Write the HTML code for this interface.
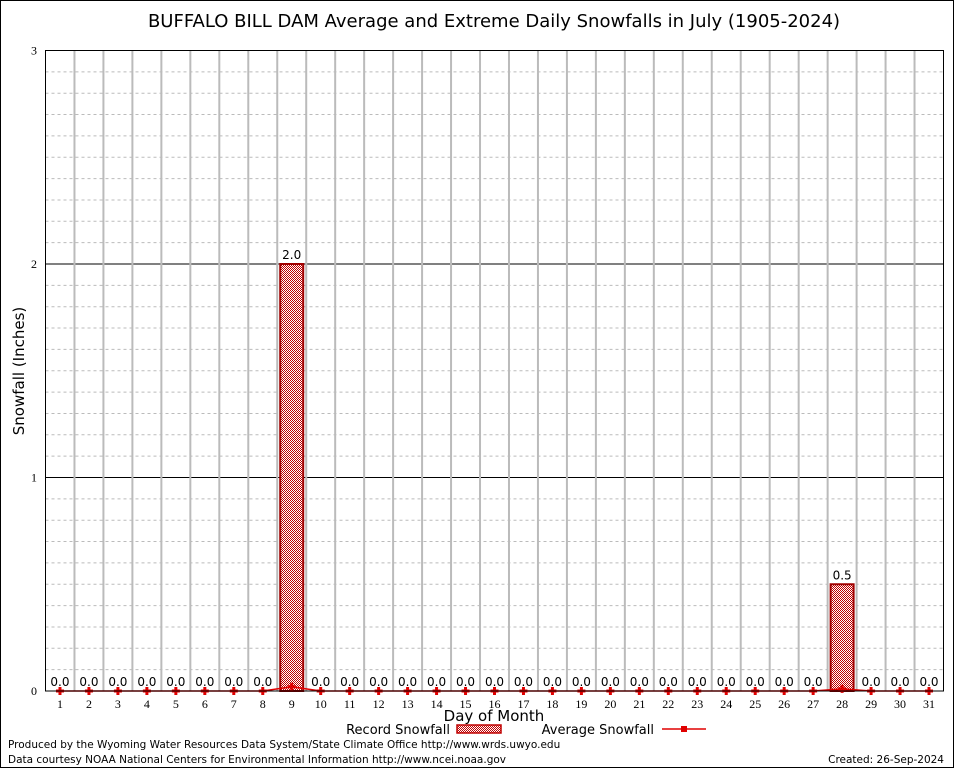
<!DOCTYPE html>
<html><head><meta charset="utf-8"><style>
body{margin:0;background:#fff;}
svg{display:block;font-family:"DejaVu Sans","Liberation Sans",sans-serif;}
</style></head><body>
<svg id="c" width="954" height="768" viewBox="0 0 954 768" xmlns="http://www.w3.org/2000/svg">
<defs>
<pattern id="hatch" width="2" height="2" patternUnits="userSpaceOnUse">
<rect width="2" height="2" fill="#fff"/><rect width="1" height="1" fill="#c00000"/><rect x="1" y="1" width="1" height="1" fill="#c00000"/>
</pattern>
</defs>
<rect x="0.5" y="0.5" width="953" height="767" fill="#fff" stroke="#000"/>
<text x="494" y="27" font-size="18" text-anchor="middle">BUFFALO BILL DAM Average and Extreme Daily Snowfalls in July (1905-2024)</text>
<g id="grid"></g><g id="marks"></g>
<rect x="45.5" y="50.5" width="898" height="640.5" fill="none" stroke="#000"/>
<text transform="translate(24,371) rotate(-90)" font-size="15" text-anchor="middle">Snowfall (Inches)</text>
<text x="494" y="721" font-size="15" text-anchor="middle">Day of Month</text>
<g>
<text x="450" y="734" font-size="13" text-anchor="end">Record Snowfall</text>
<rect x="457" y="725" width="44" height="8" fill="url(#hatch)" stroke="#c00000" stroke-width="1.5"/>
<text x="654" y="734" font-size="13" text-anchor="end">Average Snowfall</text>
<line x1="662" y1="729" x2="706" y2="729" stroke="#e00000" stroke-width="1.5"/>
<rect x="681" y="726" width="6" height="6" fill="#e00000"/>
</g>
<text x="8" y="748" font-size="10.5">Produced by the Wyoming Water Resources Data System/State Climate Office http://www.wrds.uwyo.edu</text>
<text x="8" y="763" font-size="10.5">Data courtesy NOAA National Centers for Environmental Information http://www.ncei.noaa.gov</text>
<text x="944" y="763" font-size="10.5" text-anchor="end">Created: 26-Sep-2024</text>
</svg>
<script>
const days=[1,2,3,4,5,6,7,8,9,10,11,12,13,14,15,16,17,18,19,20,21,22,23,24,25,26,27,28,29,30,31];
const recordSnow=[0,0,0,0,0,0,0,0,2.0,0,0,0,0,0,0,0,0,0,0,0,0,0,0,0,0,0,0,0.5,0,0,0];
const avgSnow=[0,0,0,0,0,0,0,0,0.02,0,0,0,0,0,0,0,0,0,0,0,0,0,0,0,0,0,0,0.01,0,0,0];
const yTicks=[0,1,2,3];
const NS="http://www.w3.org/2000/svg";
const L=45.5,R=943.5,T=50.5,B=691;
const x=d=>L+(d-0.5)*(R-L)/31;
const y=v=>B-v*(B-T)/3;
function mk(t,a,p){const e=document.createElementNS(NS,t);for(const k in a)e.setAttribute(k,a[k]);p.appendChild(e);return e;}
const g=document.getElementById('grid'),m=document.getElementById('marks');
for(let i=1;i<30;i++){if(i%10===0)continue;const l=mk('line',{x1:L,x2:R,y1:y(i/10),y2:y(i/10),stroke:'#bbb','stroke-dasharray':'3,3'},g);

}
yTicks.forEach(v=>{if(v>0&&v<3){const l=mk('line',{x1:L,x2:R,y1:y(v),y2:y(v),stroke:'#000'},g);

}
const t=mk('text',{x:37,y:y(v)+4,'font-size':12,'text-anchor':'end','font-family':'Liberation Serif,serif'},g);t.textContent=v;

});
for(let i=1;i<31;i++){const l=mk('line',{x1:x(i+0.5),x2:x(i+0.5),y1:T,y2:B,stroke:'#bbb','stroke-width':2},g);

}
days.forEach((d,i)=>{const cx=x(d),v=recordSnow[i];
if(v>0){const r=mk('rect',{x:cx-11.5,y:y(v),width:23,height:B-y(v),fill:'url(#hatch)',stroke:'#a00000','stroke-width':2},m);

}
const t=mk('text',{x:cx,y:y(v)-5,'font-size':12,'text-anchor':'middle'},m);t.textContent=v.toFixed(1);


const tl=mk('text',{x:cx,y:708,'font-size':12,'text-anchor':'middle','font-family':'Liberation Serif,serif'},m);tl.textContent=d;

});
const pl=mk('polyline',{points:days.map((d,i)=>x(d)+','+y(avgSnow[i])).join(' '),fill:'none',stroke:'#e00000','stroke-width':1.5},m);


days.forEach((d,i)=>{const p=mk('path',{d:`M${x(d)-4},${y(avgSnow[i])}h8M${x(d)},${y(avgSnow[i])-4}v8`,stroke:'#e00000','stroke-width':3},m);

});
</script>
</body></html>
